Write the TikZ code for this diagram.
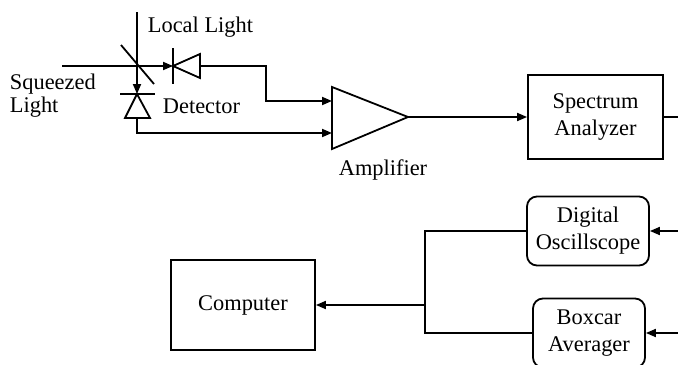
\documentclass[tikz,border=0pt]{standalone}
\usepackage{fontspec}
\setmainfont{Liberation Serif}
\usetikzlibrary{arrows.meta}
\begin{document}
\begin{tikzpicture}[x=0.5pt,y=-0.5pt,line width=0.9pt,
  font=\fontsize{11.2}{13.5}\selectfont,
  box/.style={rectangle,draw,inner sep=0pt,align=center},
  rbox/.style={box,rounded corners=5pt},
  lbl/.style={inner sep=0pt},
  tip/.style={-{Triangle[length=5pt,width=4pt]}}]
\useasboundingbox (0,0) rectangle (678,364);
\node[box,minimum width=67.5pt,minimum height=42pt] (spec) at (595.5,117) {Spectrum\\Analyzer};
\node[rbox,minimum width=61pt,minimum height=34.5pt] (scope) at (588,231) {Digital\\Oscillscope};
\node[rbox,minimum width=56pt,minimum height=34.5pt] (boxcar) at (589,333) {Boxcar\\Averager};
\node[box,minimum width=72pt,minimum height=45pt] (comp) at (243,305) {Computer};
\node[lbl,anchor=west] (locallbl) at (147,27) {Local Light};
\node[lbl,anchor=west,align=left,font=\fontsize{11.2}{11.5}\selectfont] (sqzlbl) at (9,96) {Squeezed\\Light};
\node[lbl,anchor=west] (detlbl) at (162,106) {Detector};
\node[lbl] (amplbl) at (383,170) {Amplifier};
\coordinate (bs) at (137,66);
\coordinate (lo) at (137,12);
\coordinate (sq) at (62,66);
\coordinate (dA) at (173,66);
\coordinate (dAout) at (200,66);
\coordinate (dB) at (137,94);
\coordinate (dBout) at (137,118);
\coordinate (ampin1) at (332,101);
\coordinate (ampin2) at (332,133);
\coordinate (ampout) at (408,117);
\coordinate (specout) at (678,117);
\coordinate (scopein) at (678,231);
\coordinate (boxin) at (678,333);
\coordinate (junc) at (425,305);
\draw (lo) -- (bs);
\draw (sq) -- (bs);
\draw (121,45) -- (154,84);
\draw (173,48) -- (173,84);
\draw (dA) -- (200,54) -- (200,78) -- cycle;
\draw (120,94) -- (155,94);
\draw (dB) -- (125,118) -- (150,118) -- cycle;
\draw (332,87) -- (ampout) -- (332,149) -- cycle;
\draw[tip] (bs) -- (dA);
\draw[tip] (bs) -- (dB);
\draw[tip] (dAout) -- (266,66) -- (266,101) -- (ampin1);
\draw[tip] (dBout) |- (ampin2);
\draw[tip] (ampout) -- (spec.west);
\draw (spec.east) -- (specout);
\draw[tip] (scopein) -- (scope.east);
\draw[tip] (boxin) -- (boxcar.east);
\draw (scope.west) -| (junc) |- (boxcar.west);
\draw[tip] (junc) -- (comp.east);
\end{tikzpicture}
\end{document}
